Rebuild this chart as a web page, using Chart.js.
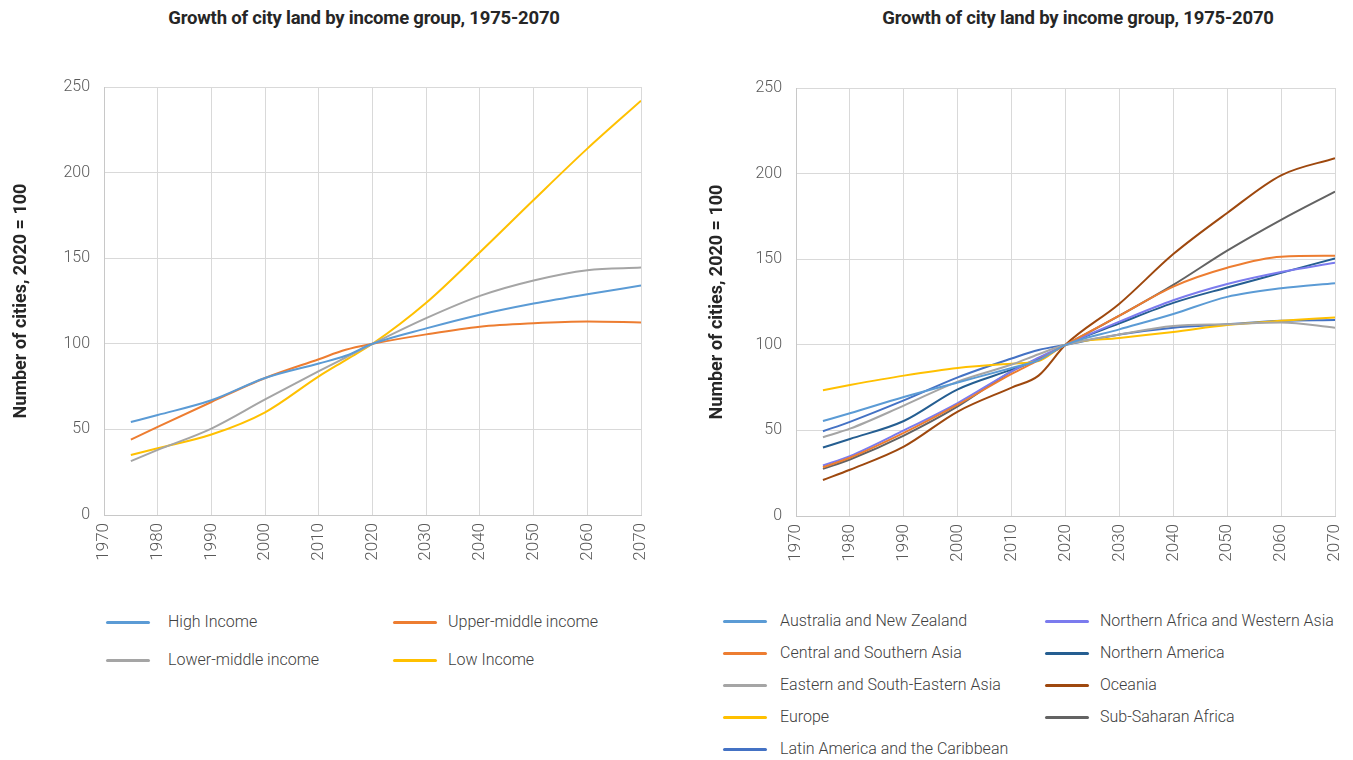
<!DOCTYPE html>
<html>
<head>
<meta charset="utf-8">
<script src="https://cdn.jsdelivr.net/npm/chart.js@4"></script>
<style>
  body { margin: 0; background: #fff; width: 1353px; height: 760px; position: relative; overflow: hidden; font-family: Roboto, "Open Sans", sans-serif; }
  canvas { position: absolute; top: 0; }
  .title { position: absolute; top: 7px; font-weight: bold; font-size: 18.5px; color: #262626; text-align: center; white-space: nowrap; transform: translateX(-50%); letter-spacing: -0.2px; }
  .leg { position: absolute; font-size: 16px; color: #404040; white-space: nowrap; font-weight: 300; }
  .leg span.swatch { position: absolute; left: 0; top: 9px; width: 44px; height: 3px; border-radius: 2px; }
  .leg span.txt { position: absolute; top: 0; }
</style>
</head>
<body>
<div class="title" style="left:364px">Growth of city land by income group, 1975-2070</div>
<div class="title" style="left:1078px">Growth of city land by income group, 1975-2070</div>
<canvas id="incomeChart" width="676" height="580" style="left:0px"></canvas>
<canvas id="regionChart" width="677" height="580" style="left:676px"></canvas>
<div id="incomeLegend"></div>
<div id="regionLegend"></div>
<script>
// years where values were read
let years = [1975, 1980, 1990, 2000, 2010, 2015, 2020, 2030, 2040, 2050, 2060, 2070];

// left chart: income groups
let high_income = [54.3, 58.4, 67, 80, 88.5, 93, 100, 109, 117, 123.5, 129, 134];
let upper_middle_income = [44, 51.5, 66, 80, 91, 96.5, 100, 105.5, 110, 112, 113, 112.5];
let lower_middle_income = [31.5, 38, 50.5, 67.5, 84, 92, 100, 115, 128, 137, 143, 144.5];
let low_income = [35, 39, 47, 60, 81, 90.5, 100, 124, 153.5, 184, 214, 242];

// right chart: regions
let australia_nz = [55.5, 60, 69.5, 78, 86.5, 91, 100, 109, 118, 128, 133, 136];
let central_southern_asia = [28.5, 34, 48.5, 65, 83, 91, 100, 117, 134, 145, 151.5, 152];
let eastern_se_asia = [46, 51, 64.5, 78.5, 88.5, 94.5, 100, 106, 111, 112, 113, 110];
let europe = [73.5, 76.5, 82, 86.5, 89, 90.5, 100, 104, 107.5, 111.5, 114, 116];
let latin_america = [49.5, 55, 67.5, 81, 92, 97, 100, 106, 110, 112, 114, 114.5];
let n_africa_w_asia = [29.5, 35, 50, 66, 84.5, 92.5, 100, 113.5, 126, 135.5, 142.5, 148];
let northern_america = [40, 45, 55.5, 74, 85.5, 91.5, 100, 112.5, 124.5, 133.5, 142, 150.5];
let oceania = [21, 27, 40.5, 61, 75, 82, 100, 124, 153, 177, 199, 209];
let sub_saharan_africa = [27.5, 33, 47, 64, 84.5, 92, 100, 117, 135, 155, 173, 189.5];

let y_ticks = [0, 50, 100, 150, 200, 250];
let x_min = 1970, x_max = 2070;

function toPoints(values) {
  return values.map((v, i) => ({ x: years[i], y: v }));
}

function makeDataset(label, values, color) {
  return {
    label: label,
    data: toPoints(values),
    borderColor: color,
    backgroundColor: color,
    borderWidth: 2,
    pointRadius: 0,
    cubicInterpolationMode: 'monotone',
    fill: false
  };
}

function makeOptions(yWidth, xHeight, padTop, padRight, titlePad) {
  return {
    responsive: false,
    animation: false,
    layout: { padding: { top: padTop, right: padRight, left: 0, bottom: 0 } },
    plugins: { legend: { display: false }, title: { display: false }, tooltip: { enabled: false } },
    scales: {
      x: {
        type: 'linear',
        min: x_min,
        max: x_max,
        afterFit: function (scale) {
          scale.height = xHeight;
          scale.paddingLeft = 0;
          scale.paddingRight = 0;
        },
        afterBuildTicks: function (scale) {
          let t = [];
          for (let v = x_min; v <= x_max; v += 10) t.push({ value: v });
          scale.ticks = t;
        },
        ticks: {
          minRotation: 90,
          maxRotation: 90,
          padding: 8,
          color: '#595959',
          font: { family: 'Roboto', size: 17, weight: '300' },
          callback: function (value) { return String(value); }
        },
        grid: { color: '#d9d9d9', drawTicks: false },
        border: { color: '#c8c8c8' }
      },
      y: {
        min: 0,
        max: 250,
        afterFit: function (scale) { scale.width = yWidth; },
        afterBuildTicks: function (scale) {
          scale.ticks = y_ticks.map(v => ({ value: v }));
        },
        ticks: {
          padding: 14,
          color: '#595959',
          font: { family: 'Roboto', size: 16, weight: '300' }
        },
        grid: { color: '#d9d9d9', drawTicks: false },
        border: { color: '#c8c8c8' },
        title: {
          display: true,
          text: 'Number of cities, 2020 = 100',
          color: '#262626',
          font: { family: 'Roboto', size: 18, weight: 'bold' },
          padding: { top: titlePad, bottom: 0 }
        }
      }
    }
  };
}

let incomeCtx = document.getElementById('incomeChart').getContext('2d');
let income_chart = new Chart(incomeCtx, {
  type: 'line',
  data: {
    datasets: [
      makeDataset('High Income', high_income, '#5B9BD5'),
      makeDataset('Upper-middle income', upper_middle_income, '#ED7D31'),
      makeDataset('Lower-middle income', lower_middle_income, '#A5A5A5'),
      makeDataset('Low Income', low_income, '#FFC000')
    ]
  },
  options: makeOptions(104, 65, 87, 35, 11)
});

let regionCtx = document.getElementById('regionChart').getContext('2d');
let region_chart = new Chart(regionCtx, {
  type: 'line',
  data: {
    datasets: [
      makeDataset('Australia and New Zealand', australia_nz, '#5B9BD5'),
      makeDataset('Central and Southern Asia', central_southern_asia, '#ED7D31'),
      makeDataset('Eastern and South-Eastern Asia', eastern_se_asia, '#A5A5A5'),
      makeDataset('Europe', europe, '#FFC000'),
      makeDataset('Latin America and the Caribbean', latin_america, '#4472C4'),
      makeDataset('Northern Africa and Western Asia', n_africa_w_asia, '#7B7BEE'),
      makeDataset('Northern America', northern_america, '#255E91'),
      makeDataset('Oceania', oceania, '#9E480E'),
      makeDataset('Sub-Saharan Africa', sub_saharan_africa, '#636363')
    ]
  },
  options: makeOptions(120, 64, 88, 18, 31)
});

// html legend built from the chart datasets
// byRow: fill rows first (left chart), otherwise fill columns first (right chart)
function buildLegend(chart, holderId, colX, textGap, rowTop, rowStep, count, byRow) {
  let holder = document.getElementById(holderId);
  chart.data.datasets.forEach((ds, i) => {
    let col = byRow ? i % count : Math.floor(i / count);
    let row = byRow ? Math.floor(i / count) : i % count;
    let item = document.createElement('div');
    item.className = 'leg';
    item.style.left = colX[col] + 'px';
    item.style.top = (rowTop + row * rowStep) + 'px';
    let sw = document.createElement('span');
    sw.className = 'swatch';
    sw.style.background = ds.borderColor;
    let tx = document.createElement('span');
    tx.className = 'txt';
    tx.style.left = textGap[col] + 'px';
    tx.textContent = ds.label;
    item.appendChild(sw);
    item.appendChild(tx);
    holder.appendChild(item);
  });
}

buildLegend(income_chart, 'incomeLegend', [106, 393], [62, 55], 612, 38, 2, true);
buildLegend(region_chart, 'regionLegend', [723, 1045], [57, 55], 611, 32, 5, false);
</script>
</body>
</html>
